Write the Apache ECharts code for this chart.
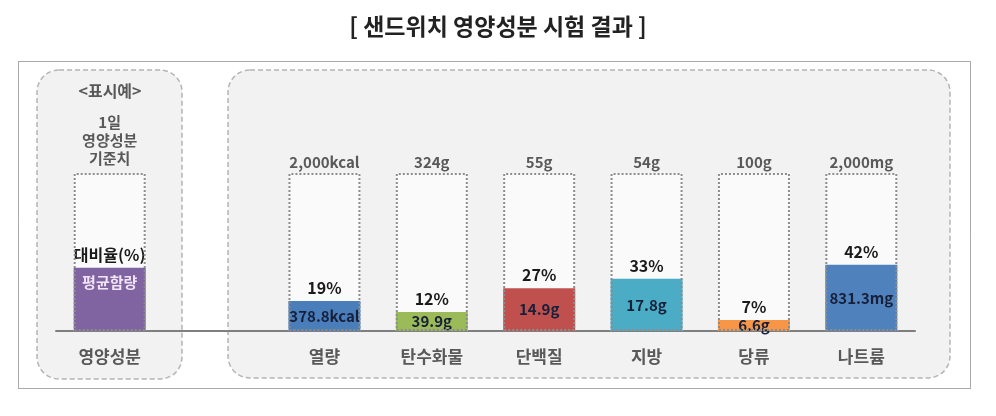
<!DOCTYPE html>
<html>
<head>
<meta charset="utf-8">
<script src="https://cdn.jsdelivr.net/npm/echarts@6/dist/echarts.min.js"></script>
<style>
  html, body { margin: 0; padding: 0; background: #fff; }
  #main { width: 996px; height: 416px; }
</style>
</head>
<body>
<div id="main"></div>
<script>
// 샌드위치 영양성분 시험 결과
var categories = ['영양성분', '', '열량', '탄수화물', '단백질', '지방', '당류', '나트륨'];
// 1일 기준치 대비율(%) - 첫 항목은 표시예
var ratioValues = [40, '-', 19, 12, 27, 33, 7, 42];
var amountLabels = ['평균함량', '', '378.8kcal', '39.9g', '14.9g', '17.8g', '6.6g', '831.3mg'];
var standardLabels = ['1일\n영양성분\n기준치', '', '2,000kcal', '324g', '55g', '54g', '100g', '2,000mg'];
var barColors = ['#8064a2', '#ffffff', '#4a7ebb', '#9bbb59', '#c0504d', '#4bacc6', '#f79646', '#4f81bd'];
var fullValues = [100, '-', 100, 100, 100, 100, 100, 100];

var FONT = '"Noto Sans CJK KR", "Noto Sans", sans-serif';

var chart = echarts.init(document.getElementById('main'));

var option = {
	animation : false,
	textStyle : { fontFamily : FONT },
	title : {
		text : '[ 샌드위치 영양성분 시험 결과 ]',
		left : 'center',
		top : 10,
		textStyle : {
			fontFamily : FONT,
			fontSize : 23,
			fontWeight : 'bold',
			color : '#222'
		}
	},
	graphic : [ {
		// 바깥 점선 테두리
		type : 'rect',
		z : -10,
		shape : { x : 18.5, y : 61.5, width : 952, height : 327 },
		style : { fill : '#fff', stroke : '#555', lineWidth : 1, lineDash : [ 1, 1 ] }
	}, {
		type : 'rect',
		z : -9,
		shape : { x : 37, y : 70, width : 145, height : 309, r : 22 },
		style : { fill : '#f2f2f2', stroke : '#b4b4b4', lineWidth : 1.5, lineDash : [ 5, 3 ] }
	}, {
		type : 'rect',
		z : -9,
		shape : { x : 228, y : 70, width : 722, height : 308, r : 22 },
		style : { fill : '#f2f2f2', stroke : '#b4b4b4', lineWidth : 1.5, lineDash : [ 5, 3 ] }
	}, {
		type : 'text',
		z : 10,
		x : 110,
		y : 91,
		style : {
			text : '<표시예>',
			align : 'center',
			verticalAlign : 'middle',
			fontFamily : FONT,
			fontSize : 16,
			fontWeight : 'bold',
			fill : '#595959'
		}
	} ],
	grid : {
		left : 56,
		right : 81,
		top : 173,
		bottom : 85
	},
	xAxis : {
		type : 'category',
		data : categories,
		axisTick : { show : false },
		axisLine : {
			lineStyle : { color : '#7f7f7f', width : 2 }
		},
		axisLabel : {
			margin : 17,
			fontFamily : FONT,
			fontSize : 17,
			fontWeight : 'bold',
			color : '#595959'
		}
	},
	yAxis : {
		type : 'value',
		min : 0,
		max : 100,
		show : false
	},
	series : [ {
		// 기준치 상자 바탕
		type : 'bar',
		barWidth : 72,
		barGap : '-100%',
		silent : true,
		z : 1,
		itemStyle : { color : '#fafafa' },
		data : fullValues
	}, {
		// 대비율 막대
		type : 'bar',
		barWidth : 72,
		barGap : '-100%',
		z : 2,
		data : ratioValues.map(function(v, i) {
			return {
				value : v,
				itemStyle : { color : barColors[i] }
			};
		}),
		label : {
			show : true,
			position : 'top',
			distance : 5,
			overflow : 'none',
			fontFamily : FONT,
			fontSize : 16,
			fontWeight : 'bold',
			color : '#1a1a1a',
			formatter : function(p) {
				return p.dataIndex === 0 ? '대비율(%)' : p.value + '%';
			}
		}
	}, {
		// 평균함량 글자
		type : 'bar',
		barWidth : 72,
		barGap : '-100%',
		silent : true,
		z : 3,
		itemStyle : { color : 'transparent' },
		data : ratioValues.map(function(v, i) {
			var item = { value : v };
			if (i === 0) {
				item.label = {
					position : 'insideTop',
					distance : 7,
					color : '#f1e4f6'
				};
			}
			return item;
		}),
		label : {
			show : true,
			position : 'inside',
			overflow : 'none',
			width : 120,
			fontFamily : FONT,
			fontSize : 15,
			fontWeight : 'bold',
			color : '#17203a',
			formatter : function(p) {
				return amountLabels[p.dataIndex];
			}
		}
	}, {
		// 점선 테두리 + 기준치
		type : 'bar',
		barWidth : 72,
		barGap : '-100%',
		silent : true,
		z : 4,
		itemStyle : {
			color : 'transparent',
			borderColor : '#8c8c8c',
			borderWidth : 2,
			borderType : 'dotted'
		},
		data : fullValues.map(function(v, i) {
			var item = { value : v };
			if (i === 0) {
				item.label = { distance : 6, lineHeight : 18 };
			}
			return item;
		}),
		label : {
			show : true,
			position : 'top',
			distance : 3,
			fontFamily : FONT,
			fontSize : 15,
			fontWeight : 'bold',
			color : '#595959',
			formatter : function(p) {
				return standardLabels[p.dataIndex];
			}
		}
	} ]
};

chart.setOption(option);
</script>
</body>
</html>
